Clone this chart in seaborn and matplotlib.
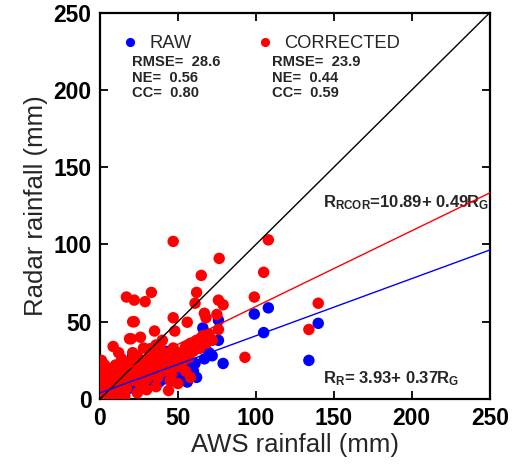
import matplotlib
matplotlib.use("Agg")
import matplotlib.pyplot as plt
import seaborn as sns
import pandas as pd
import numpy as np

# AWS gauge rainfall (mm) vs radar rainfall (mm), raw radar estimates
raw_x = [1, 2, 3, 4, 5, 6, 7, 8, 9, 10, 11, 12, 13, 14, 15, 16, 17, 18, 19, 20,
         21, 22, 23, 24, 25, 26, 27, 28, 29, 30, 31, 32, 33, 34, 35, 36, 37, 38,
         39, 40, 41, 42, 43, 44, 45, 46, 47, 48, 49, 50, 52, 54, 56, 56, 58, 60,
         61, 62, 64, 66, 67, 67, 70, 72, 76, 76, 79, 99, 105, 108, 134, 140,
         3, 5, 8, 2]
raw_y = [1, 3, 0.5, 2, 5, 1, 4, 2, 7, 3, 6, 9, 4, 8, 11, 5, 10, 13, 7, 12,
         28, 9, 14, 11, 17, 8, 13, 19, 10, 15, 21, 12, 17, 9, 20, 14, 18, 11,
         22, 16, 13, 31, 19, 15, 30, 21, 12, 24, 17, 20, 27, 14, 11, 29, 23, 18,
         23, 14, 33, 46, 39, 26, 30, 28, 51, 38, 23, 55, 43, 59, 25, 49,
         10, 14, 17, 8]

# Bias-corrected radar estimates
cor_x = [47, 108, 76.5, 65, 105, 33, 29, 17, 22, 62, 76, 79, 99, 61, 67, 68, 75,
         21, 47, 56, 48, 76, 19, 8.5, 65, 32, 51, 93, 58, 44, 140, 134, 14, 3,
         1, 20, 22,
         1, 2, 3, 1, 2, 1, 4, 5, 6, 7, 8, 9, 10, 11, 12, 13, 14, 15, 16, 17, 18,
         19, 20, 21, 22, 23, 24, 25, 26, 27, 28, 29, 30, 31, 32, 33, 34, 35, 36,
         37, 38, 39, 40, 41, 42, 43, 44, 45, 46, 47, 48, 50, 52, 53, 55, 57, 58,
         60, 62, 64, 66, 68, 70, 72, 6, 10, 16, 24, 30, 36, 12, 26, 35, 40, 45,
         55, 50]
cor_y = [102, 103, 91, 80, 82, 69, 63, 66, 64, 69, 64, 61, 66, 62, 55.5, 52.6,
         54.7, 50, 52.6, 49.7, 44, 45, 39, 34, 39.6, 32.5, 28, 27, 14, 5.5, 62,
         45, 3.4, 22, 25, 39, 50,
         2, 5, 8, 12, 17, 20, 14, 3, 10, 18, 6, 13, 22, 4, 9, 16, 26, 11, 20, 7,
         14, 24, 18, 30, 12, 21, 28, 16, 9, 23, 33, 19, 13, 26, 21, 30, 17, 24,
         35, 14, 27, 22, 31, 18, 25, 20, 29, 23, 16, 33, 26, 21, 30, 24, 34, 27,
         36, 31, 38, 33, 41, 36, 42, 38, 0.5, 1, 2, 4, 6, 8, 30, 40, 44, 38, 12,
         18, 10]

series_names = ["RAW", "CORRECTED"]
series_colors = ["#0000ff", "#ff0000"]
intercepts = [3.93, 10.89]
slopes = [0.37, 0.49]
stats_rmse = [28.6, 23.9]
stats_ne = [0.56, 0.44]
stats_cc = [0.80, 0.59]
ticks = [0, 50, 100, 150, 200, 250]

df = pd.concat([
    pd.DataFrame({"aws": raw_x, "radar": raw_y, "series": series_names[0]}),
    pd.DataFrame({"aws": cor_x, "radar": cor_y, "series": series_names[1]}),
], ignore_index=True)

sns.set_theme(style="white")
plt.rcParams["font.family"] = ["Liberation Sans", "DejaVu Sans"]
plt.rcParams["mathtext.default"] = "regular"

fig = plt.figure(figsize=(5.15, 4.7), dpi=100)
ax = fig.add_axes([0.194, 0.151, 0.757, 0.822])

sns.scatterplot(data=df, x="aws", y="radar", hue="series",
                palette=dict(zip(series_names, series_colors)),
                s=68, linewidth=0, alpha=1, ax=ax, legend=True, zorder=3)

xx = np.array([0, 250])
ax.plot(xx, xx, color="black", lw=1.0, zorder=4)
for b, m, c in zip(intercepts, slopes, series_colors):
    ax.plot(xx, b + m * xx, color=c, lw=1.0, zorder=4)

ax.set_xlim(0, 250)
ax.set_ylim(0, 250)
ax.set_xticks(ticks)
ax.set_yticks(ticks)
ax.set_xticklabels([str(t) for t in ticks], fontsize=16.5, fontweight="bold")
ax.set_yticklabels([str(t) for t in ticks], fontsize=16.5, fontweight="bold")
ax.tick_params(direction="in", length=6, width=1.3, top=True, right=True,
               bottom=True, left=True, pad=6, colors="black")
for sp in ax.spines.values():
    sp.set_color("black")
    sp.set_linewidth(1.6)

ax.set_xlabel("AWS rainfall (mm)", fontsize=18.5, labelpad=2)
ax.set_ylabel("Radar rainfall (mm)", fontsize=18.5, labelpad=4)

leg = ax.legend(loc="upper left", bbox_to_anchor=(0.025, 0.97), ncol=2,
                frameon=False, fontsize=13.2, handletextpad=0.55,
                columnspacing=3.5, markerscale=0.8, handlelength=1.0,
                borderaxespad=0.2)

# statistics under each legend entry
for i, xpos in enumerate([20.7, 110.4]):
    lines = [f"RMSE=  {stats_rmse[i]:.1f}", f"NE=  {stats_ne[i]:.2f}",
             f"CC=  {stats_cc[i]:.2f}"]
    for j, txt in enumerate(lines):
        ax.text(xpos, 218.0 - j * 10.0, txt, fontsize=10.6, fontweight="bold",
                va="center", ha="left")

ax.text(143, 127, r"R$_{RCOR}$=10.89+ 0.49R$_{G}$", fontsize=12,
        fontweight="bold", va="center", ha="left")
ax.text(143, 13, r"R$_{R}$= 3.93+ 0.37R$_{G}$", fontsize=12,
        fontweight="bold", va="center", ha="left")

fig.savefig("out.png", dpi=100)
